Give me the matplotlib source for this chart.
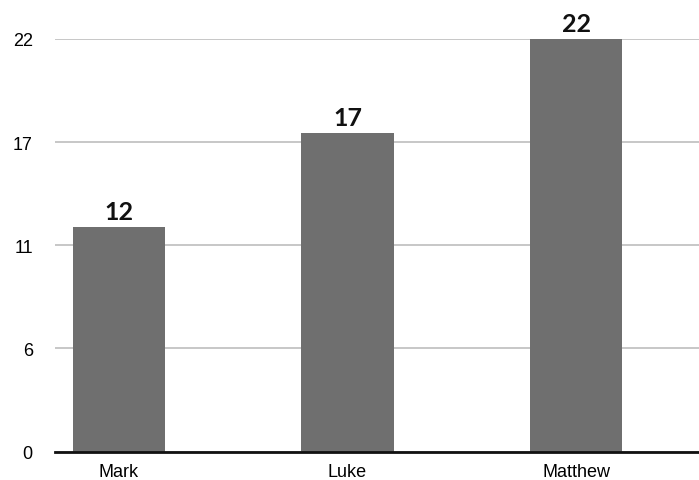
import matplotlib
matplotlib.use("Agg")
import matplotlib.pyplot as plt

categories = ["Mark", "Luke", "Matthew"]
values = [12, 17, 22]
ytick_values = [0, 5.5, 11, 16.5, 22]
ytick_labels = ["0", "6", "11", "17", "22"]

fig = plt.figure(figsize=(6.99, 4.81), dpi=100)
W, H = 699, 481
left, right, top, bottom = 55, 699, 40, 452.5
ax = fig.add_axes([left / W, (H - bottom) / H, (right - left) / W, (bottom - top) / H])

x = list(range(len(categories)))
bars = ax.bar(x, values, width=0.403, color="#6f6f6f", zorder=3)
for xi, v in zip(x, values):
    ax.text(xi, v + 0.2, str(v), ha="center", va="bottom", fontsize=18,
            fontweight="bold", family="Lato", color="#111111", clip_on=False)

ax.set_xlim(-0.280, 2.538)
ax.set_ylim(0, 22)
ax.set_yticks(ytick_values)
ax.set_yticklabels(ytick_labels, family="Liberation Sans", fontsize=13)
ax.set_xticks(x)
ax.set_xticklabels(categories, family="Liberation Sans", fontsize=13)
ax.tick_params(axis="both", length=0)
ax.tick_params(axis="y", pad=16)
ax.tick_params(axis="x", pad=8)
ax.yaxis.grid(True, color="#bdbdbd", linewidth=1.2, zorder=0)
for s in ["top", "right", "left"]:
    ax.spines[s].set_visible(False)
ax.spines["bottom"].set_color("#111111")
ax.spines["bottom"].set_linewidth(2)
ax.spines["bottom"].set_zorder(4)

fig.savefig("out.png", dpi=100)
